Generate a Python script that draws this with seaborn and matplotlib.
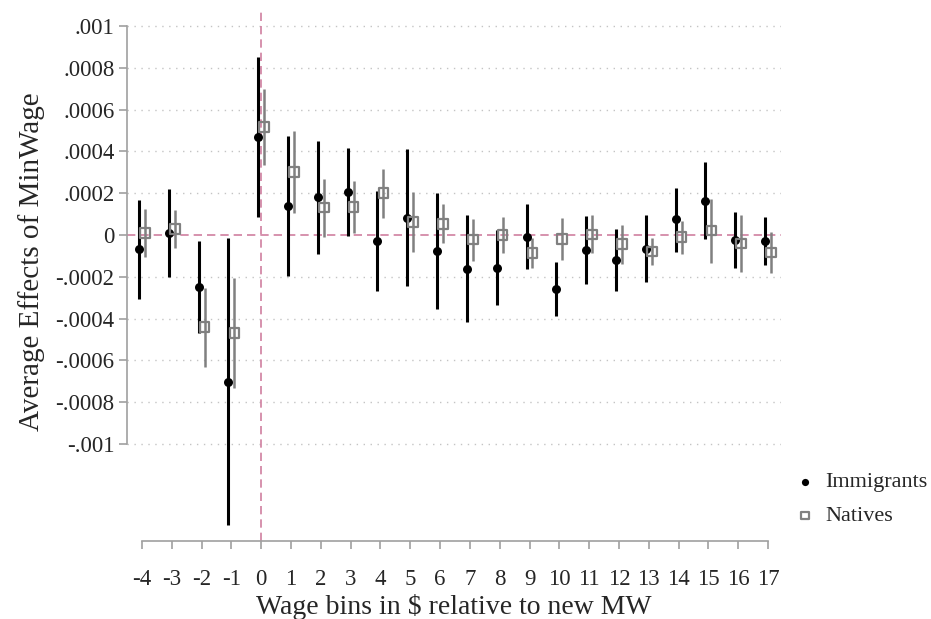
import numpy as np
import pandas as pd
import matplotlib
matplotlib.use("Agg")
import matplotlib.pyplot as plt
import seaborn as sns

# wage bins relative to the new minimum wage
bins = list(range(-4, 18))

imm_est = [-0.000067, 0.000010, -0.000249, -0.000702, 0.000469, 0.000139, 0.000180,
           0.000205, -0.000029, 0.000083, -0.000076, -0.000163, -0.000156, -0.000008,
           -0.000259, -0.000071, -0.000121, -0.000065, 0.000075, 0.000165, -0.000025, -0.000029]
imm_lo = [-0.000307, -0.000200, -0.000467, -0.001389, 0.000087, -0.000197, -0.000090,
          -0.000005, -0.000267, -0.000243, -0.000354, -0.000417, -0.000337, -0.000162,
          -0.000389, -0.000232, -0.000270, -0.000227, -0.000079, -0.000017, -0.000160, -0.000144]
imm_hi = [0.000169, 0.000221, -0.000028, -0.000012, 0.000854, 0.000472, 0.000451,
          0.000416, 0.000211, 0.000410, 0.000202, 0.000094, 0.000025, 0.000148,
          -0.000130, 0.000090, 0.000029, 0.000098, 0.000225, 0.000348, 0.000110, 0.000086]

nat_est = [0.000011, 0.000030, -0.000441, -0.000470, 0.000516, 0.000302, 0.000131,
           0.000135, 0.000200, 0.000063, 0.000054, -0.000022, 0.000000, -0.000087,
           -0.000019, 0.000003, -0.000044, -0.000079, -0.000011, 0.000021, -0.000040, -0.000083]
nat_lo = [-0.000103, -0.000064, -0.000631, -0.000733, 0.000336, 0.000103, -0.000011,
          0.000008, 0.000083, -0.000081, -0.000040, -0.000122, -0.000084, -0.000157,
          -0.000121, -0.000086, -0.000140, -0.000144, -0.000090, -0.000133, -0.000178, -0.000184]
nat_hi = [0.000125, 0.000118, -0.000252, -0.000208, 0.000697, 0.000500, 0.000270,
          0.000259, 0.000317, 0.000208, 0.000146, 0.000078, 0.000084, -0.000016,
          0.000081, 0.000094, 0.000049, -0.000016, 0.000065, 0.000173, 0.000095, 0.000016]

yticks = [0.001, 0.0008, 0.0006, 0.0004, 0.0002, 0, -0.0002, -0.0004, -0.0006, -0.0008, -0.001]
ytick_labels = [".001", ".0008", ".0006", ".0004", ".0002", "0",
                "-.0002", "-.0004", "-.0006", "-.0008", "-.001"]

df = pd.concat([
    pd.DataFrame({"bin": bins, "est": imm_est, "lo": imm_lo, "hi": imm_hi, "group": "Immigrants"}),
    pd.DataFrame({"bin": bins, "est": nat_est, "lo": nat_lo, "hi": nat_hi, "group": "Natives"}),
], ignore_index=True)
df["xpos"] = df["bin"] + df["group"].map({"Immigrants": -0.1, "Natives": 0.1})

sns.set_style("white")
plt.rcParams["font.family"] = ["Liberation Serif", "DejaVu Serif"]

fig = plt.figure(figsize=(9.31, 6.19), dpi=100)
ax = fig.add_axes([0.1364, 0.126, 0.702, 0.858])

pink = "#cf7fa0"
gray = "#808080"
spine_col = "#a0a0a0"

# gridlines
for t in yticks:
    if t != 0:
        ax.axhline(t, color="#c4c4c4", lw=1, ls=(0, (1, 4)), zorder=0)
ax.axhline(0, color=pink, lw=1.2, ls=(0, (5, 3)), zorder=1)
ax.axvline(0, color=pink, lw=1.2, ls=(0, (5, 3)), zorder=1)

imm = df[df["group"] == "Immigrants"]
nat = df[df["group"] == "Natives"]

ax.vlines(imm["xpos"], imm["lo"], imm["hi"], color="black", lw=2.2, zorder=2)
ax.vlines(nat["xpos"], nat["lo"], nat["hi"], color=gray, lw=1.8, zorder=2)

sns.scatterplot(data=imm, x="xpos", y="est", marker="o", color="black", s=42,
                edgecolor="black", linewidth=0, ax=ax, zorder=3, label="Immigrants")
sns.scatterplot(data=nat, x="xpos", y="est", marker="s", facecolors="none", s=48,
                edgecolor=gray, linewidth=1.6, ax=ax, zorder=3, label="Natives")

ax.set_xlim(-4.5, 17.42)
ax.set_ylim(-0.001464, 0.001077)
ax.set_xticks(bins)
ax.set_xticklabels([str(b) for b in bins])
ax.set_yticks(yticks)
ax.set_yticklabels(ytick_labels)

for side in ["top", "right"]:
    ax.spines[side].set_visible(False)
ax.spines["left"].set_bounds(-0.001, 0.001)
ax.spines["bottom"].set_bounds(-4, 17)
for side in ["left", "bottom"]:
    ax.spines[side].set_color(spine_col)
    ax.spines[side].set_linewidth(1.2)
ax.tick_params(axis="both", direction="out", length=6, width=1.2, color=spine_col,
               labelsize=16.5, bottom=True, left=True)
ax.tick_params(axis="x", pad=14)
ax.tick_params(axis="y", pad=3)

ax.set_xlabel("Wage bins in $ relative to new MW", fontsize=20, labelpad=3)
ax.set_ylabel("Average Effects of MinWage", fontsize=21)
ax.yaxis.set_label_coords(-0.125, 0.525)

leg = ax.legend(loc="center left", bbox_to_anchor=(1.0, 0.079), frameon=False,
                fontsize=16, borderaxespad=0.1, handlelength=1.2, handletextpad=0.3,
                labelspacing=0.6, markerscale=0.8)

fig.savefig("out.png", dpi=100)
